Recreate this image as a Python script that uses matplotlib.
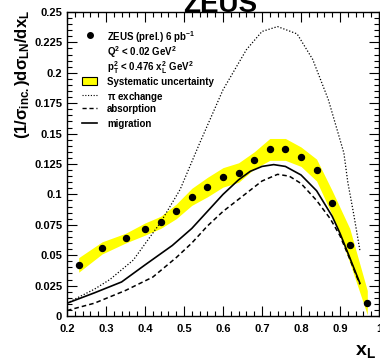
import numpy as np
import matplotlib
matplotlib.use('Agg')
import matplotlib.pyplot as plt
from matplotlib.lines import Line2D
from matplotlib.patches import Rectangle
from matplotlib.ticker import MultipleLocator

plt.rcParams['font.family'] = ['Liberation Sans', 'DejaVu Sans']
plt.rcParams['font.weight'] = 'bold'
plt.rcParams['mathtext.fontset'] = 'custom'
plt.rcParams['mathtext.rm'] = 'Liberation Sans:bold'
plt.rcParams['mathtext.it'] = 'Liberation Sans:bold'
plt.rcParams['mathtext.bf'] = 'Liberation Sans:bold'

# ZEUS data points
xl = [0.23, 0.29, 0.35, 0.40, 0.44, 0.48, 0.52, 0.56, 0.60, 0.64,
      0.68, 0.72, 0.76, 0.80, 0.84, 0.88, 0.925, 0.97]
dsig = [0.042, 0.056, 0.064, 0.0715, 0.077, 0.086, 0.098, 0.106, 0.114, 0.118,
        0.128, 0.137, 0.137, 0.131, 0.120, 0.093, 0.058, 0.011]
syst = [0.006, 0.005, 0.004, 0.005, 0.005, 0.006, 0.007, 0.008, 0.008, 0.008,
        0.007, 0.009, 0.009, 0.008, 0.009, 0.010, 0.014, 0.010]

# model curves
pi_x = [0.20, 0.233, 0.27, 0.31, 0.37, 0.44, 0.49, 0.54, 0.60, 0.66, 0.70,
        0.74, 0.79, 0.83, 0.87, 0.91, 0.92, 0.935, 0.951]
pi_y = [0.0105, 0.016, 0.022, 0.030, 0.046, 0.077, 0.104, 0.142, 0.186, 0.219, 0.234,
        0.238, 0.232, 0.211, 0.178, 0.134, 0.110, 0.084, 0.054]
mig_x = [0.20, 0.27, 0.34, 0.40, 0.47, 0.52, 0.56, 0.60, 0.64, 0.67, 0.70,
         0.73, 0.76, 0.80, 0.84, 0.88, 0.90, 0.925, 0.951]
mig_y = [0.0105, 0.019, 0.028, 0.042, 0.058, 0.072, 0.086, 0.100, 0.112, 0.119, 0.123,
         0.1245, 0.123, 0.116, 0.103, 0.082, 0.068, 0.048, 0.027]
abs_x = [0.20, 0.27, 0.35, 0.42, 0.48, 0.52, 0.56, 0.60, 0.66, 0.70, 0.74,
         0.77, 0.80, 0.84, 0.875, 0.90, 0.925, 0.951]
abs_y = [0.0045, 0.0105, 0.021, 0.032, 0.048, 0.060, 0.074, 0.086, 0.101, 0.111, 0.1165,
         0.115, 0.109, 0.095, 0.080, 0.066, 0.047, 0.026]

legend_labels = [
    r'ZEUS (prel.) 6 pb$^{-1}$',
    r'Q$^2$ < 0.02 GeV$^2$',
    r'p$_T^2$ < 0.476 x$_L^2$ GeV$^2$',
    'Systematic uncertainty',
    r'$\pi$ exchange',
    'absorption',
    'migration',
]

fig = plt.figure(figsize=(3.8, 3.62), dpi=100)
ax = fig.add_axes([67/380, 1-316/362, 312/380, 304/362])

lo = np.array(dsig) - np.array(syst)
hi = np.array(dsig) + np.array(syst)
ax.fill_between(xl, lo, hi, color='#ffff00', lw=0)
ax.plot(pi_x, pi_y, color='black', lw=0.9, ls=(0, (1, 1.5)))
ax.plot(abs_x, abs_y, color='black', lw=1.1, ls=(0, (3, 2)))
ax.plot(mig_x, mig_y, color='black', lw=1.2)
ax.plot(xl, dsig, 'o', color='black', ms=4.3, zorder=5)

ax.set_xlim(0.2, 1.0)
ax.set_ylim(0, 0.25)
ax.xaxis.set_major_locator(MultipleLocator(0.1))
ax.xaxis.set_minor_locator(MultipleLocator(0.02))
ax.yaxis.set_major_locator(MultipleLocator(0.025))
ax.yaxis.set_minor_locator(MultipleLocator(0.005))
ax.set_xticks([0.2, 0.3, 0.4, 0.5, 0.6, 0.7, 0.8, 0.9, 1.0])
ax.set_xticklabels(['0.2', '0.3', '0.4', '0.5', '0.6', '0.7', '0.8', '0.9', '1'])
ax.set_yticks([0, 0.025, 0.05, 0.075, 0.1, 0.125, 0.15, 0.175, 0.2, 0.225, 0.25])
ax.set_yticklabels(['0', '0.025', '0.05', '0.075', '0.1', '0.125', '0.15',
                    '0.175', '0.2', '0.225', '0.25'])
ax.tick_params(which='both', direction='in', top=True, right=True, labelsize=8,
               width=0.8)
ax.tick_params(which='major', length=7)
ax.tick_params(which='minor', length=3.5)
ax.tick_params(axis='x', pad=6)
for s in ax.spines.values():
    s.set_linewidth(1.0)

ax.set_ylabel(r'(1/$\sigma_{inc.}$)d$\sigma_{LN}$/dx$_L$', fontsize=12,
              fontweight='bold')
ax.yaxis.set_label_coords(-0.112, 0.795)
fig.text(365/380, 1-352/362, r'x$_L$', fontsize=14, fontweight='bold',
         ha='center', va='center')
fig.text(220/380, 1-12/362, 'ZEUS', fontsize=20, fontweight='bold',
         ha='center', va='baseline')

# legend, laid out by hand to match row spacing
rows = [0.924, 0.874, 0.824, 0.773, 0.727, 0.684, 0.635]
tr = ax.transAxes
for lab, yy in zip(legend_labels, rows):
    ax.text(0.128, yy, lab, transform=tr, fontsize=7.0, fontweight='bold',
            va='center_baseline', ha='left')
ax.add_line(Line2D([0.074], [rows[0]], transform=tr, ls='none', marker='o',
                   color='black', ms=4))
ax.add_patch(Rectangle((0.048, rows[3]-0.013), 0.048, 0.026, transform=tr,
                       facecolor='#ffff00', edgecolor='black', lw=0.8))
ax.add_line(Line2D([0.048, 0.096], [rows[4]]*2, transform=tr, color='black',
                   lw=0.8, ls=(0, (1, 1.5))))
ax.add_line(Line2D([0.048, 0.096], [rows[5]]*2, transform=tr, color='black',
                   lw=1.0, ls=(0, (3, 2))))
ax.add_line(Line2D([0.048, 0.096], [rows[6]]*2, transform=tr, color='black',
                   lw=1.2))

fig.savefig('out.png', dpi=100)
